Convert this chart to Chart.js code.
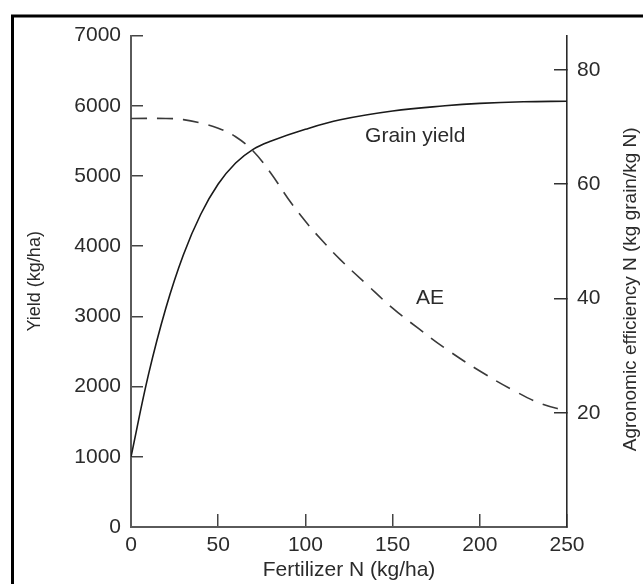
<!DOCTYPE html>
<html>
<head>
<meta charset="utf-8">
<script src="https://cdn.jsdelivr.net/npm/chart.js@4"></script>
<style>
  html, body { margin: 0; padding: 0; background: #fff; }
  #wrap { width: 643px; height: 584px; position: relative; }
</style>
</head>
<body>
<div id="wrap"><canvas id="yieldChart"></canvas></div>
<script>
// grain yield curve (kg/ha) against fertilizer N (kg/ha)
const fertN = [0, 10, 20, 30, 40, 50, 60, 70, 80, 100, 120, 150, 180, 200, 225, 250];
const grainYield = [1000, 2170, 3120, 3875, 4455, 4885, 5185, 5380, 5495, 5665, 5800, 5925, 6000, 6035, 6058, 6065];

// agronomic efficiency curve (kg grain / kg N)
const aeN = [0, 20, 30, 40, 50, 60, 70, 80, 90, 100, 110, 120, 135, 150, 165, 180, 200, 220, 235, 250];
const aeValues = [71.5, 71.5, 71.3, 70.7, 69.8, 68.3, 65.8, 62, 57.5, 53.5, 50, 46.8, 42.5, 38.3, 34.7, 31.3, 27.3, 23.8, 21.6, 20.3];

const aeTicks = [20, 40, 60, 80];

const textColor = '#2b2b2b';
const fontFamily = '"Liberation Sans", Arial, sans-serif';
const rightTitle = 'Agronomic efficiency N (kg grain/kg N)';

// in-plot curve names, placed in data coordinates
const curveLabels = [
    { text: 'Grain yield', x: 163, y: 5570, axis: 'y' },
    { text: 'AE', x: 171.5, y: 40, axis: 'y2' }
];

const extras = {
    id: 'extras',
    beforeDraw(chart) {
        const ctx = chart.ctx;
        ctx.save();
        ctx.strokeStyle = '#000';
        ctx.lineWidth = 3;
        ctx.beginPath();
        ctx.moveTo(12.5, chart.height);
        ctx.lineTo(12.5, 16);
        ctx.lineTo(chart.width, 16);
        ctx.stroke();
        ctx.restore();
    },
    afterDraw(chart) {
        const { ctx, chartArea, scales } = chart;
        ctx.save();
        ctx.fillStyle = textColor;
        ctx.textAlign = 'center';
        ctx.textBaseline = 'middle';
        ctx.font = '21px ' + fontFamily;
        curveLabels.forEach(l => {
            ctx.fillText(l.text, scales.x.getPixelForValue(l.x), scales[l.axis].getPixelForValue(l.y));
        });
        // right axis title reads bottom to top
        ctx.font = '19px ' + fontFamily;
        ctx.translate(chartArea.right + 64, (chartArea.top + chartArea.bottom) / 2 + 8);
        ctx.rotate(-Math.PI / 2);
        ctx.fillText(rightTitle, 0, 0);
        ctx.restore();
    }
};

const tickFont = { size: 21, family: fontFamily };

const yieldChart = new Chart(document.getElementById('yieldChart'), {
    type: 'line',
    data: {
        datasets: [{
            label: 'Grain yield',
            data: fertN.map((n, i) => ({ x: n, y: grainYield[i] })),
            yAxisID: 'y',
            borderColor: '#1a1a1a',
            borderWidth: 1.6,
            pointRadius: 0,
            tension: 0.4
        }, {
            label: 'AE',
            data: aeN.map((n, i) => ({ x: n, y: aeValues[i] })),
            yAxisID: 'y2',
            borderColor: '#3a3a3a',
            borderWidth: 1.6,
            borderDash: [16, 10],
            pointRadius: 0,
            tension: 0.4
        }]
    },
    options: {
        responsive: true,
        maintainAspectRatio: false,
        animation: false,
        layout: { padding: { top: 34, left: 0, right: 0, bottom: 0 } },
        plugins: {
            legend: { display: false },
            tooltip: { enabled: false }
        },
        scales: {
            x: {
                type: 'linear',
                min: 0,
                max: 250,
                afterFit: s => { s.height = 57; },
                border: { color: '#5a5a5a', width: 2 },
                grid: { drawOnChartArea: false, tickLength: -13, color: '#444', lineWidth: 1.5 },
                ticks: { stepSize: 50, padding: 19, color: textColor, font: tickFont, format: { useGrouping: false } },
                title: {
                    display: true,
                    text: 'Fertilizer N (kg/ha)',
                    color: textColor,
                    font: { size: 21, family: fontFamily },
                    padding: { top: 0, bottom: 1 }
                }
            },
            y: {
                position: 'left',
                min: 0,
                max: 7000,
                afterFit: s => { s.width = 131; },
                border: { color: '#5a5a5a', width: 2 },
                grid: { drawOnChartArea: false, tickLength: -12, color: '#444', lineWidth: 1.5 },
                ticks: { stepSize: 1000, padding: 22, color: textColor, font: tickFont, format: { useGrouping: false } },
                title: {
                    display: true,
                    text: 'Yield (kg/ha)',
                    color: textColor,
                    font: { size: 18, family: fontFamily },
                    padding: { top: 24, bottom: 0 }
                }
            },
            y2: {
                position: 'right',
                min: 0,
                max: 86,
                afterFit: s => { s.width = 76; },
                afterBuildTicks: s => { s.ticks = aeTicks.map(v => ({ value: v })); },
                border: { color: '#2a2a2a', width: 1.6 },
                grid: { drawOnChartArea: false, tickLength: -13, color: '#333', lineWidth: 1.5 },
                ticks: { padding: 23, color: textColor, font: tickFont },
                title: { display: false }
            }
        }
    },
    plugins: [extras]
});
</script>
</body>
</html>
